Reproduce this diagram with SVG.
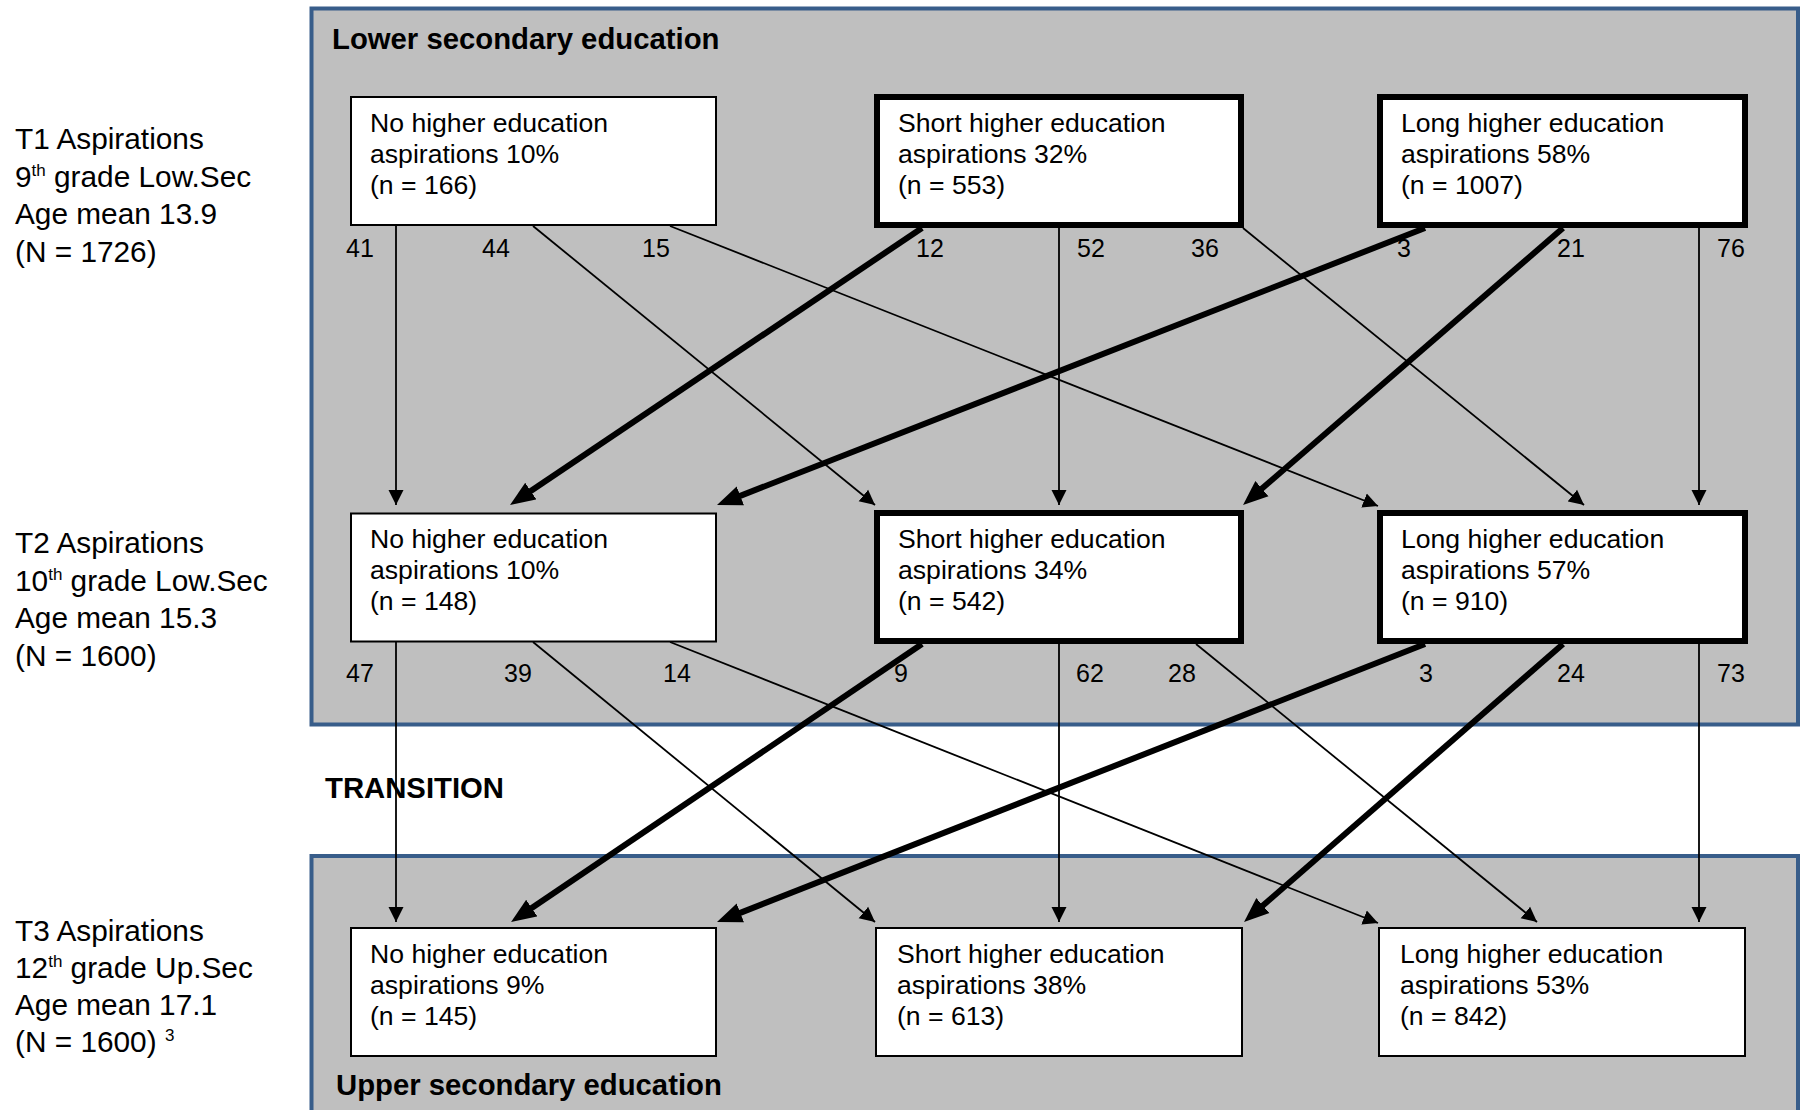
<svg xmlns="http://www.w3.org/2000/svg" width="1800" height="1110" viewBox="0 0 1800 1110">
<defs>
<style>
text{font-family:"Liberation Sans",Arial,sans-serif;fill:#000}
.lbl{font-size:29.8px}
.ttl{font-size:29.3px;font-weight:bold}
.bt{font-size:26.6px}
.num{font-size:25px}
.sup{font-size:17px}
.panel{fill:#bfbfbf;stroke:#385d8a;stroke-width:4}
.thin{fill:#fff;stroke:#000;stroke-width:2}
.thick{fill:#fff;stroke:#000;stroke-width:6}
.c1{stroke:#000;stroke-width:1.8;fill:none;marker-end:url(#ah)}
.c2{stroke:#000;stroke-width:6;fill:none;marker-end:url(#ahb)}
</style>
<marker id="ah" markerUnits="userSpaceOnUse" markerWidth="16" markerHeight="16" viewBox="0 -8 16 16" refX="15" refY="0" orient="auto"><path d="M0,-7.5 L15,0 L0,7.5 z" fill="#000"/></marker>
<marker id="ahb" markerUnits="userSpaceOnUse" markerWidth="26" markerHeight="22" viewBox="0 -11 26 22" refX="13" refY="0" orient="auto"><path d="M0,-10 L25,0 L0,10 z" fill="#000"/></marker>
</defs>
<rect width="1800" height="1110" fill="#fff"/>
<g id="panel-lower">
<rect class="panel" x="311.5" y="8.5" width="1486.5" height="716"/>
<text class="ttl" x="332" y="49">Lower secondary education</text>
</g>
<g id="panel-upper">
<rect class="panel" x="311.5" y="856" width="1486.5" height="300"/>
<text class="ttl" x="336" y="1095">Upper secondary education</text>
</g>
<text class="ttl" x="325" y="798">TRANSITION</text>
<g id="label-t1">
<text class="lbl" x="15" y="149">T1 Aspirations</text>
<text class="lbl" x="15" y="186.5">9<tspan class="sup" dy="-11">th</tspan><tspan dy="11"> grade Low.Sec</tspan></text>
<text class="lbl" x="15" y="224">Age mean 13.9</text>
<text class="lbl" x="15" y="261.5">(N = 1726)</text>
</g>
<g id="label-t2">
<text class="lbl" x="15" y="553">T2 Aspirations</text>
<text class="lbl" x="15" y="590.5">10<tspan class="sup" dy="-11">th</tspan><tspan dy="11"> grade Low.Sec</tspan></text>
<text class="lbl" x="15" y="628">Age mean 15.3</text>
<text class="lbl" x="15" y="665.5">(N = 1600)</text>
</g>
<g id="label-t3">
<text class="lbl" x="15" y="940.5">T3 Aspirations</text>
<text class="lbl" x="15" y="978">12<tspan class="sup" dy="-11">th</tspan><tspan dy="11"> grade Up.Sec</tspan></text>
<text class="lbl" x="15" y="1015">Age mean 17.1</text>
<text class="lbl" x="15" y="1052">(N = 1600) <tspan class="sup" dy="-11">3</tspan></text>
</g>
<g id="connectors">
<line class="c1" x1="396" y1="226" x2="396" y2="505"/>
<line class="c1" x1="533" y1="226" x2="875" y2="505"/>
<line class="c1" x1="670" y1="226" x2="1378" y2="506"/>
<line class="c2" x1="922" y1="228" x2="520" y2="498.3"/>
<line class="c1" x1="1059" y1="228" x2="1059" y2="505"/>
<line class="c1" x1="1243" y1="228" x2="1584" y2="505"/>
<line class="c2" x1="1425" y1="228" x2="728.2" y2="500.6"/>
<line class="c2" x1="1563" y1="228" x2="1252.1" y2="497.1"/>
<line class="c1" x1="1699" y1="228" x2="1699" y2="505"/>
<line class="c1" x1="396" y1="642" x2="396" y2="922"/>
<line class="c1" x1="533" y1="642" x2="875" y2="922"/>
<line class="c1" x1="670" y1="642" x2="1378" y2="923"/>
<line class="c2" x1="922" y1="644" x2="521" y2="915.3"/>
<line class="c1" x1="1059" y1="644" x2="1059" y2="922"/>
<line class="c1" x1="1196" y1="644" x2="1537" y2="922"/>
<line class="c2" x1="1425" y1="644" x2="728.2" y2="917.6"/>
<line class="c2" x1="1563" y1="644" x2="1253.1" y2="914.1"/>
<line class="c1" x1="1699" y1="644" x2="1699" y2="922"/>
</g>
<g id="flow-labels">
<text class="num" x="346" y="257">41</text>
<text class="num" x="482" y="257">44</text>
<text class="num" x="642" y="257">15</text>
<text class="num" x="916" y="257">12</text>
<text class="num" x="1077" y="257">52</text>
<text class="num" x="1191" y="257">36</text>
<text class="num" x="1397" y="257">3</text>
<text class="num" x="1557" y="257">21</text>
<text class="num" x="1717" y="257">76</text>
<text class="num" x="346" y="682">47</text>
<text class="num" x="504" y="682">39</text>
<text class="num" x="663" y="682">14</text>
<text class="num" x="894" y="682">9</text>
<text class="num" x="1076" y="682">62</text>
<text class="num" x="1168" y="682">28</text>
<text class="num" x="1419" y="682">3</text>
<text class="num" x="1557" y="682">24</text>
<text class="num" x="1717" y="682">73</text>
</g>
<g id="t1-no">
<rect class="thin" x="351" y="97" width="365" height="128"/>
<text class="bt" x="370" y="132">No higher education</text>
<text class="bt" x="370" y="163">aspirations 10%</text>
<text class="bt" x="370" y="194">(n = 166)</text>
</g>
<g id="t1-short">
<rect class="thick" x="877" y="97" width="364" height="128"/>
<text class="bt" x="898" y="132">Short higher education</text>
<text class="bt" x="898" y="163">aspirations 32%</text>
<text class="bt" x="898" y="194">(n = 553)</text>
</g>
<g id="t1-long">
<rect class="thick" x="1380" y="97" width="365" height="128"/>
<text class="bt" x="1401" y="132">Long higher education</text>
<text class="bt" x="1401" y="163">aspirations 58%</text>
<text class="bt" x="1401" y="194">(n = 1007)</text>
</g>
<g id="t2-no">
<rect class="thin" x="351" y="513.5" width="365" height="128"/>
<text class="bt" x="370" y="548">No higher education</text>
<text class="bt" x="370" y="579">aspirations 10%</text>
<text class="bt" x="370" y="610">(n = 148)</text>
</g>
<g id="t2-short">
<rect class="thick" x="877" y="513" width="364" height="128"/>
<text class="bt" x="898" y="548">Short higher education</text>
<text class="bt" x="898" y="579">aspirations 34%</text>
<text class="bt" x="898" y="610">(n = 542)</text>
</g>
<g id="t2-long">
<rect class="thick" x="1380" y="513" width="365" height="128"/>
<text class="bt" x="1401" y="548">Long higher education</text>
<text class="bt" x="1401" y="579">aspirations 57%</text>
<text class="bt" x="1401" y="610">(n = 910)</text>
</g>
<g id="t3-no">
<rect class="thin" x="351" y="928" width="365" height="128"/>
<text class="bt" x="370" y="963">No higher education</text>
<text class="bt" x="370" y="994">aspirations 9%</text>
<text class="bt" x="370" y="1025">(n = 145)</text>
</g>
<g id="t3-short">
<rect class="thin" x="876" y="928" width="366" height="128"/>
<text class="bt" x="897" y="963">Short higher education</text>
<text class="bt" x="897" y="994">aspirations 38%</text>
<text class="bt" x="897" y="1025">(n = 613)</text>
</g>
<g id="t3-long">
<rect class="thin" x="1379" y="928" width="366" height="128"/>
<text class="bt" x="1400" y="963">Long higher education</text>
<text class="bt" x="1400" y="994">aspirations 53%</text>
<text class="bt" x="1400" y="1025">(n = 842)</text>
</g>
</svg>
